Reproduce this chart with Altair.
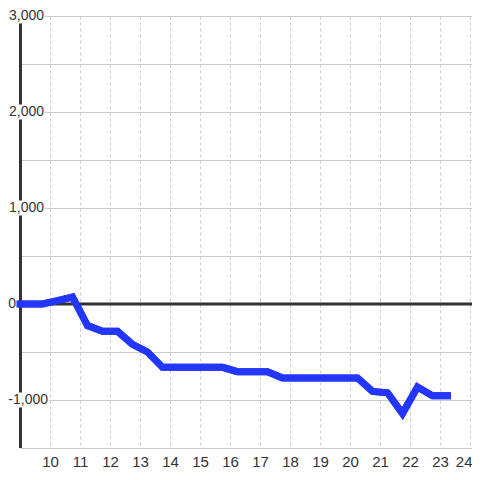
import altair as alt
import pandas as pd

# data
hours = [9.0, 9.25, 9.75, 10.25, 10.75, 11.25, 11.75, 12.25, 12.75, 13.25, 13.75,
         14.25, 14.75, 15.25, 15.75, 16.25, 16.75, 17.25, 17.75, 18.25, 18.75,
         19.25, 19.75, 20.25, 20.75, 21.25, 21.75, 22.25, 22.75, 23.25]
values = [0, 0, 0, 35, 73, -225, -285, -285, -420, -500, -660,
          -660, -660, -660, -660, -705, -705, -705, -770, -770, -770,
          -770, -770, -770, -910, -925, -1140, -865, -955, -955]
x_ticks = list(range(10, 25))
y_grid = [-1500, -1000, -500, 0, 500, 1000, 1500, 2000, 2500, 3000]
y_labels = [3000, 2000, 1000, 0, -1000]

BG = "white"
W, H = 452, 432
xdom = [9, 9 + W / 30]
ydom = [-1500, 3000]

df = pd.DataFrame({"h": hours, "v": values})
lab = pd.DataFrame({"v": y_labels})

xs = alt.Scale(domain=xdom, nice=False, zero=False)
ys = alt.Scale(domain=ydom, nice=False, zero=False)

x_axis = alt.Axis(
    values=x_ticks, grid=True, gridDash=[3, 3], gridColor="#cccccc", gridWidth=1,
    ticks=False, domain=False, labelFontSize=15, labelColor="#333333",
    labelFont="Liberation Sans", labelPadding=6, title=None, format="d",
    labelOverlap=False, labelBound=False, labelFlush=False,
    labelAlign=alt.ExprRef(expr="datum.value == 24 ? 'right' : 'center'"),
    labelOffset=alt.ExprRef(expr="datum.value == 24 ? 2 : 0"))
y_axis = alt.Axis(
    values=y_grid, grid=True, gridColor="#cccccc", gridWidth=1,
    ticks=False, domain=False, labels=False, title=None)

yaxis = alt.Chart(df).mark_rule(color="#333333", strokeWidth=3).encode(
    x=alt.value(0.5), y=alt.value(0), y2=alt.value(H))

zero = alt.Chart(pd.DataFrame({"v": [0]})).mark_rule(
    color="#333333", strokeWidth=3).encode(y=alt.Y("v:Q", scale=ys, axis=y_axis))

# label background boxes (pixel decoration)
boxes = alt.Chart(lab).transform_calculate(
    bx0="datum.v == 0 ? -14 : -12",
    bx1="datum.v == 0 ? -2 : (datum.v < 0 ? 29 : 25)",
    by0=f"({ydom[1]} - datum.v) * {H / (ydom[1] - ydom[0])} - 7.5",
    by1=f"({ydom[1]} - datum.v) * {H / (ydom[1] - ydom[0])} + 7.5",
).mark_rect(color=BG, opacity=1, strokeWidth=0).encode(
    x=alt.X("bx0:Q", scale=None),
    x2="bx1:Q",
    y=alt.Y("by0:Q", scale=None),
    y2="by1:Q")

labels = alt.Chart(lab).transform_calculate(
    lx="datum.v == 0 ? -4 : (datum.v < 0 ? 28 : 24)",
    txt="replace(format(datum.v, ','), '\u2212', '-')",
).mark_text(align="right", baseline="middle", fontSize=14,
            font="Liberation Sans", color="#333333").encode(
    x=alt.X("lx:Q", scale=None),
    y=alt.Y("v:Q", scale=ys, axis=y_axis),
    text="txt:N")

line = alt.Chart(df).mark_line(color="#2236ff", strokeWidth=7,
                               strokeCap="square", clip=False).encode(
    x=alt.X("h:Q", scale=xs, axis=x_axis), y=alt.Y("v:Q", scale=ys, axis=y_axis))

chart = alt.layer(line, yaxis, zero, boxes, labels, line).properties(
    width=W, height=H, background=BG,
    padding={"left": 12, "top": 8, "right": 0, "bottom": 24},
    autosize=alt.AutoSizeParams(type="none"),
).configure_view(stroke=None)

chart.save("out.html", embed_options={"renderer": "svg", "actions": False})
